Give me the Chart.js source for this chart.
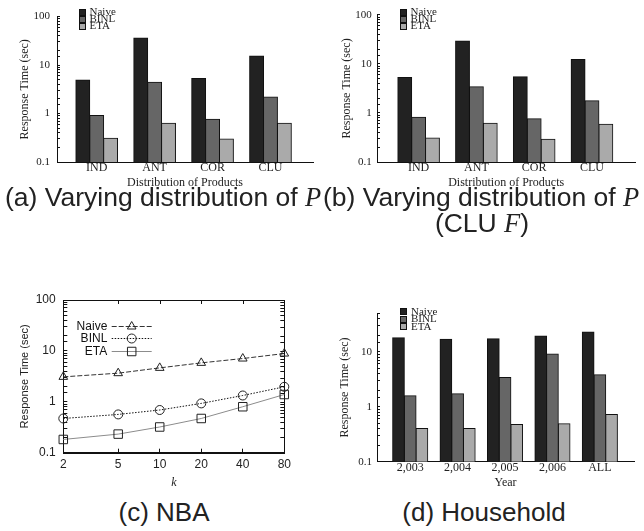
<!DOCTYPE html>
<html>
<head>
<meta charset="utf-8">
<script src="https://cdn.jsdelivr.net/npm/chart.js@4.4.1/dist/chart.umd.min.js"></script>
<style>
    body { margin: 0; background: #fff; width: 644px; height: 531px; position: relative; overflow: hidden; }
    canvas { position: absolute; }
    .cap { position: absolute; font-family: "Liberation Sans", Arial, sans-serif; font-size: 26px; line-height: 30px; color: #222; white-space: nowrap; }
    .cap i { font-family: "Liberation Serif", serif; }
    .top { font-size: 26.5px; }
    .center { text-align: center; }
</style>
</head>
<body>
<canvas id="chartA" width="322" height="192" style="left:0;top:0;width:322px;height:192px"></canvas>
<canvas id="chartB" width="322" height="192" style="left:322px;top:0;width:322px;height:192px"></canvas>
<canvas id="chartC" width="322" height="215" style="left:0;top:280px;width:322px;height:215px"></canvas>
<canvas id="chartD" width="322" height="215" style="left:322px;top:280px;width:322px;height:215px"></canvas>

<div class="cap top" style="left:5px;top:182px">(a) Varying distribution of <i>P</i></div>
<div class="cap top" style="left:323px;top:182px">(b) Varying distribution of <i>P</i></div>
<div class="cap top center" style="left:382px;top:208px;width:200px">(CLU <i>F</i>)</div>
<div class="cap center" style="left:0;top:497px;width:328px">(c) NBA</div>
<div class="cap center" style="left:322px;top:497px;width:324px">(d) Household</div>

<script>
// Reihen-Namen und Werte
const seriesNames = ['Naive', 'BINL', 'ETA'];
const barColors = ['#222222', '#666666', '#aaaaaa'];
const decadeTicks = [0.1, 1, 10, 100];

// (a) und (b): Verteilung der Produkte
const distCategories = ['IND', 'ANT', 'COR', 'CLU'];
const naiveA = [4.9, 36, 5.3, 15.3];
const binlA = [0.91, 4.4, 0.76, 2.2];
const etaA = [0.31, 0.63, 0.30, 0.63];
const naiveB = [5.3, 29.4, 5.5, 12.3];
const binlB = [0.82, 3.43, 0.76, 1.78];
const etaB = [0.31, 0.62, 0.29, 0.59];

// (c) NBA
const kValues = [2, 5, 10, 20, 40, 80];
const naiveC = [3.09, 3.65, 4.64, 5.82, 7.08, 8.87];
const binlC = [0.47, 0.565, 0.69, 0.93, 1.33, 1.97];
const etaC = [0.182, 0.232, 0.32, 0.47, 0.8, 1.39];

// (d) Household
const yearCategories = ['2,003', '2,004', '2,005', '2,006', 'ALL'];
const naiveD = [18, 16.8, 17.3, 19.4, 22.9];
const binlD = [1.59, 1.73, 3.39, 9.06, 3.8];
const etaD = [0.40, 0.40, 0.475, 0.49, 0.72];

const serif = 'Liberation Serif';
const sans = 'Liberation Sans';

function isDecade(v) {
    return decadeTicks.some(d => Math.abs(d - v) < 1e-9);
}

// Legende mit Kästchen (Balken-Diagramme)
const boxLegend = {
    id: 'boxLegend',
    afterDraw(chart, args, opts) {
        if (!opts || opts.boxX === undefined) return;
        const ctx = chart.ctx;
        ctx.save();
        ctx.font = '11px "' + serif + '"';
        ctx.textBaseline = 'middle';
        ctx.textAlign = 'left';
        chart.data.datasets.forEach((ds, i) => {
            const y = opts.y + i * opts.dy;
            const s = opts.size;
            ctx.fillStyle = ds.backgroundColor;
            ctx.fillRect(opts.boxX, Math.round(y - s / 2), s, s);
            ctx.strokeStyle = '#111';
            ctx.lineWidth = 1;
            ctx.strokeRect(opts.boxX + 0.5, Math.round(y - s / 2) + 0.5, s - 1, s - 1);
            ctx.fillStyle = '#222';
            ctx.fillText(ds.label, opts.textX, y);
        });
        ctx.restore();
    }
};

// Legende mit Linien-Muster (NBA)
const lineLegend = {
    id: 'lineLegend',
    afterDraw(chart, args, opts) {
        if (!opts || opts.textX === undefined) return;
        const ctx = chart.ctx;
        ctx.save();
        ctx.font = '12px "' + sans + '"';
        ctx.textBaseline = 'middle';
        ctx.textAlign = 'right';
        chart.data.datasets.forEach((ds, i) => {
            const y = Math.round(opts.y + i * opts.dy) + 0.5;
            ctx.fillStyle = '#111';
            ctx.fillText(ds.label, opts.textX, y);
            ctx.strokeStyle = ds.borderColor;
            ctx.lineWidth = ds.borderWidth;
            ctx.setLineDash(ds.borderDash || []);
            ctx.beginPath();
            ctx.moveTo(opts.lineX0, y);
            ctx.lineTo(opts.lineX1, y);
            ctx.stroke();
            ctx.setLineDash([]);
            ctx.strokeStyle = ds.pointBorderColor;
            ctx.fillStyle = ds.pointBackgroundColor;
            ctx.lineWidth = 1;
            Chart.helpers.drawPoint(ctx, {
                pointStyle: ds.pointStyle, radius: ds.pointRadius, borderWidth: 1, rotation: 0
            }, (opts.lineX0 + opts.lineX1) / 2, y);
        });
        ctx.restore();
    }
};

// Rahmen mit gespiegelten Ticks (gnuplot-Stil)
const frameBox = {
    id: 'frameBox',
    beforeDatasetsDraw(chart, args, opts) {
        if (!opts || !opts.show) return;
        const {left, right, top, bottom} = chart.chartArea;
        const ctx = chart.ctx;
        ctx.save();
        ctx.strokeStyle = '#111';
        ctx.lineWidth = 1;
        ctx.strokeRect(Math.round(left) + 0.5, Math.round(top) + 0.5,
            Math.round(right - left), Math.round(bottom - top));
        chart.scales.x.ticks.forEach(t => {
            const px = Math.round(chart.scales.x.getPixelForValue(t.value)) + 0.5;
            ctx.beginPath();
            ctx.moveTo(px, top);
            ctx.lineTo(px, top + 4);
            ctx.stroke();
        });
        chart.scales.y.ticks.forEach(t => {
            const py = Math.round(chart.scales.y.getPixelForValue(t.value)) + 0.5;
            ctx.beginPath();
            ctx.moveTo(right, py);
            ctx.lineTo(right - 4, py);
            ctx.stroke();
        });
        ctx.restore();
    }
};

Chart.register(boxLegend, lineLegend, frameBox);
Chart.defaults.color = '#222';

function barChart(id, cats, values, lay) {
    return new Chart(document.getElementById(id), {
        type: 'bar',
        data: {
            datasets: values.map((vals, s) => ({
                label: seriesNames[s],
                data: vals.map((v, i) => ({x: i, y: v})),
                backgroundColor: barColors[s],
                borderColor: '#111',
                borderWidth: 1,
                inflateAmount: 0.5,
                categoryPercentage: lay.group,
                barPercentage: 1
            }))
        },
        options: {
            responsive: false,
            animation: false,
            layout: {padding: {top: lay.top, right: lay.right, left: 0, bottom: 0}},
            plugins: {
                legend: {display: false},
                tooltip: {enabled: false},
                boxLegend: lay.legend
            },
            scales: {
                x: {
                    type: 'linear',
                    offset: false,
                    min: lay.xMin,
                    max: lay.xMax,
                    afterBuildTicks: s => { s.ticks = cats.map((c, i) => ({value: i})); },
                    afterFit: s => { s.height = lay.xHeight; },
                    ticks: {
                        callback: v => cats[v],
                        font: {family: serif, size: 12, lineHeight: 1},
                        padding: lay.xPad,
                        maxRotation: 0,
                        autoSkip: false
                    },
                    grid: {display: false, drawTicks: false, tickLength: 0},
                    border: {color: '#111'},
                    title: {
                        display: true, text: lay.xTitle,
                        font: {family: serif, size: 12},
                        padding: {top: 0, bottom: lay.xTitlePad}
                    }
                },
                y: {
                    type: 'logarithmic',
                    min: 0.1,
                    max: lay.yMax,
                    afterFit: s => { s.width = lay.yWidth; },
                    ticks: {
                        callback: v => isDecade(v) ? String(v) : '',
                        font: {family: serif, size: 11},
                        padding: lay.yPad,
                        autoSkip: false
                    },
                    grid: {drawOnChartArea: false, tickLength: -3, color: '#111'},
                    border: {color: '#111'},
                    title: {
                        display: true, text: 'Response Time (sec)',
                        font: {family: serif, size: 12},
                        padding: {top: lay.yTitlePad, bottom: 0}
                    }
                }
            }
        }
    });
}

barChart('chartA', distCategories, [naiveA, binlA, etaA], {
    top: 14, right: 9, yWidth: 57, xHeight: 30, yMax: 100,
    xMin: -0.685, xMax: 3.734, group: 0.72,
    xPad: 0, xTitlePad: 1.8, yPad: 10, yTitlePad: 17.8,
    xTitle: 'Distribution of Products',
    legend: {boxX: 79, textX: 89.5, y: 12, dy: 7.3, size: 7}
});

barChart('chartB', distCategories, [naiveB, binlB, etaB], {
    top: 14, right: 8.7, yWidth: 55, xHeight: 30, yMax: 100,
    xMin: -0.72, xMax: 3.75, group: 0.72,
    xPad: 0, xTitlePad: 1.8, yPad: 8.3, yTitlePad: 17.8,
    xTitle: 'Distribution of Products',
    legend: {boxX: 78, textX: 88.5, y: 12, dy: 7.3, size: 7}
});

barChart('chartD', yearCategories, [naiveD, binlD, etaD], {
    top: 33.3, right: 10, yWidth: 55, xHeight: 33.3, yMax: 50,
    xMin: -0.70, xMax: 4.72, group: 0.74,
    xPad: 0.5, xTitlePad: 4.5, yPad: 8, yTitlePad: 16.1,
    xTitle: 'Year',
    legend: {boxX: 78, textX: 89, y: 31.7, dy: 7.5, size: 7}
});

// (c) NBA – Liniendiagramm mit log-Achsen
const lineStyles = [
    {color: '#333', dash: [5, 2], point: 'triangle', radius: 5},
    {color: '#111', dash: [1.5, 1.5], point: 'circle', radius: 4.5},
    {color: '#8c8c8c', dash: [], point: 'rect', radius: 6}
];

new Chart(document.getElementById('chartC'), {
    type: 'line',
    data: {
        datasets: [naiveC, binlC, etaC].map((vals, s) => ({
            label: seriesNames[s],
            data: vals.map((v, i) => ({x: kValues[i], y: v})),
            borderColor: lineStyles[s].color,
            borderDash: lineStyles[s].dash,
            borderWidth: 1,
            pointStyle: lineStyles[s].point,
            pointRadius: lineStyles[s].radius,
            pointBorderColor: '#222',
            pointBackgroundColor: 'rgba(0,0,0,0)',
            pointBorderWidth: 1,
            clip: false,
            tension: 0
        }))
    },
    options: {
        responsive: false,
        animation: false,
        layout: {padding: {top: 20, right: 37.7, left: 0, bottom: 0}},
        plugins: {
            legend: {display: false},
            tooltip: {enabled: false},
            frameBox: {show: true},
            lineLegend: {textX: 107.3, lineX0: 111.7, lineX1: 151.7, y: 46, dy: 12.3}
        },
        scales: {
            x: {
                type: 'logarithmic',
                min: 2,
                max: 80,
                afterBuildTicks: s => { s.ticks = kValues.map(v => ({value: v})); },
                afterFit: s => { s.height = 42.3; },
                ticks: {
                    callback: v => String(v),
                    font: {family: sans, size: 12, lineHeight: 1},
                    padding: 10.3,
                    maxRotation: 0,
                    autoSkip: false
                },
                grid: {drawOnChartArea: false, tickLength: -4, color: '#111'},
                border: {color: '#111'},
                title: {
                    display: true, text: 'k',
                    font: {family: serif, size: 12, style: 'italic'},
                    padding: {top: 0, bottom: 4.8}
                }
            },
            y: {
                type: 'logarithmic',
                min: 0.1,
                max: 100,
                afterFit: s => { s.width = 63.3; },
                ticks: {
                    callback: v => isDecade(v) ? String(v) : '',
                    font: {family: sans, size: 12},
                    padding: 11.6,
                    autoSkip: false
                },
                grid: {drawOnChartArea: false, tickLength: -4, color: '#111'},
                border: {color: '#111'},
                title: {
                    display: true, text: 'Response Time (sec)',
                    font: {family: sans, size: 11},
                    padding: {top: 18.4, bottom: 0}
                }
            }
        }
    }
});
</script>
</body>
</html>
